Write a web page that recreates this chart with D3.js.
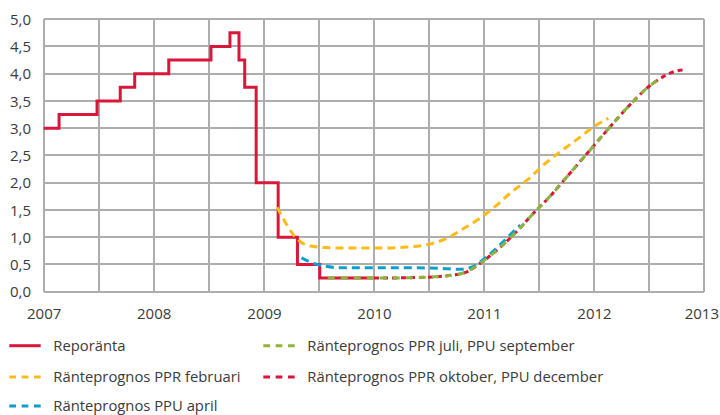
<!DOCTYPE html>
<html><head><meta charset="utf-8">
<script src="https://cdn.jsdelivr.net/npm/d3@7/dist/d3.min.js"></script>
<style>
html,body{margin:0;padding:0;background:#fff;}
svg{display:block;}
.ax{font-family:"Open Sans",sans-serif;font-size:15px;fill:#3a3a3a;}
.lg{font-family:"Open Sans",sans-serif;font-size:14.8px;fill:#3a3a3a;}
</style></head><body>
<svg id="c" width="720" height="415"></svg>
<script>
// ---- data ----
const yearTicks = [2007, 2008, 2009, 2010, 2011, 2012, 2013];
const yTicks = [0, 0.5, 1, 1.5, 2, 2.5, 3, 3.5, 4, 4.5, 5];

// Reporänta (step function): [date, rate]
const repoDates = ["2007-01-01","2007-02-21","2007-06-27","2007-09-12","2007-10-30","2008-02-20","2008-07-09","2008-09-10","2008-10-10","2008-10-29","2008-12-06","2009-02-17","2009-04-22","2009-07-05","2009-12-30"];
const repoValues = [3.0,3.25,3.5,3.75,4.0,4.25,4.5,4.75,4.25,3.75,2.0,1.0,0.5,0.25,0.25];

// Ränteprognos PPR februari (decimal years)
const febX = [2009.12,2009.30,2009.38,2009.55,2009.80,2010.05,2010.30,2010.50,2010.65,2010.80,2010.95,2011.10,2011.25,2011.40,2011.55,2011.70,2011.85,2012.00,2012.13];
const febY = [1.55,0.97,0.86,0.81,0.80,0.80,0.82,0.87,0.97,1.14,1.33,1.56,1.83,2.06,2.34,2.58,2.80,3.03,3.18];

// Ränteprognos PPU april
const aprX = [2009.34,2009.45,2009.55,2009.70,2010.00,2010.30,2010.60,2010.78,2010.90,2011.00,2011.13,2011.24,2011.33];
const aprY = [0.62,0.52,0.47,0.44,0.44,0.44,0.43,0.41,0.46,0.60,0.83,1.05,1.22];

// Ränteprognos PPR juli, PPU september
const julX = [2009.58,2010.00,2010.40,2010.70,2010.85,2010.95,2011.05,2011.15,2011.30,2011.45,2011.60,2011.75,2011.90,2012.05,2012.20,2012.35,2012.50,2012.60];
const julY = [0.25,0.25,0.26,0.30,0.37,0.50,0.65,0.82,1.11,1.44,1.75,2.10,2.45,2.80,3.15,3.48,3.77,3.91];

// Ränteprognos PPR oktober, PPU december
const oktX = [2010.00,2010.40,2010.70,2010.85,2010.95,2011.05,2011.15,2011.30,2011.45,2011.60,2011.75,2011.90,2012.05,2012.20,2012.35,2012.50,2012.60,2012.70,2012.82];
const oktY = [0.25,0.26,0.30,0.37,0.50,0.65,0.82,1.11,1.44,1.75,2.10,2.45,2.80,3.15,3.48,3.77,3.91,4.02,4.07];

const seriesNames = ["Reporänta","Ränteprognos PPR februari","Ränteprognos PPU april","Ränteprognos PPR juli, PPU september","Ränteprognos PPR oktober, PPU december"];
const seriesColors = ["#d9173b","#fdbb1b","#0b9fcf","#8cb43e","#d9173b"];

// ---- chart ----
const svg = d3.select("#c");
const x0 = 43.7, x1 = 704.3, yTop = 19.2, yBot = 291.7;
const toDate = v => { const y = Math.floor(v); const s = new Date(y,0,1), e = new Date(y+1,0,1); return new Date(+s + (v-y)*(e-s)); };
const x = d3.scaleTime().domain([new Date(2007,0,1), new Date(2013,0,1)]).range([x0, x1]);
const y = d3.scaleLinear().domain([0,5]).range([yBot, yTop]);

// grid: vertical at half years
const halfYears = d3.range(2007, 2013.01, 0.5).map(toDate);
const grid = svg.append("g").attr("stroke","#adadad").attr("stroke-width",1.2).attr("shape-rendering","crispEdges");
grid.selectAll("line.v").data(halfYears).join("line").attr("class","v")
  .attr("x1",d=>Math.round(x(d))).attr("x2",d=>Math.round(x(d))).attr("y1",yTop).attr("y2",yBot);
grid.selectAll("line.h").data(yTicks).join("line").attr("class","h")
  .attr("x1",x0).attr("x2",x1).attr("y1",d=>Math.round(y(d))).attr("y2",d=>Math.round(y(d)));

// y axis labels
const fmt = d => d3.format(".1f")(d).replace(".", ",");
const yAxis = d3.axisLeft(y).tickValues(yTicks).tickFormat(fmt).tickSize(0).tickPadding(0);
const gy = svg.append("g").attr("transform","translate(31,0)").call(yAxis);
gy.select(".domain").remove();
gy.selectAll("text").attr("class","ax").attr("font-family",null).attr("font-size",null).attr("fill",null).attr("dy","0.35em");

// x axis labels
const xAxis = d3.axisBottom(x).tickValues(yearTicks.map(v=>new Date(v,0,1))).tickFormat(d3.timeFormat("%Y")).tickSize(0).tickPadding(0);
const gx = svg.append("g").attr("transform","translate(0,319)").call(xAxis);
gx.select(".domain").remove();
gx.selectAll("text").attr("class","ax").attr("font-family",null).attr("font-size",null).attr("fill",null).attr("dy",0);
gx.selectAll("text").each(function(){
  const b = this.getBBox();
  const t = d3.select(this.parentNode).attr("transform");
  const tx = +t.match(/translate\(([-\d.]+)/)[1];
  if (tx + b.x + b.width > 719) d3.select(this).attr("x", 719 - (tx + b.x + b.width));
});

// lines
const repo = repoDates.map((d,i)=>({d:new Date(d+"T00:00:00"), v:repoValues[i]}));
const stepLine = d3.line().x(p=>x(p.d)).y(p=>y(p.v)).curve(d3.curveStepAfter);
svg.append("path").datum(repo).attr("d",stepLine).attr("fill","none")
  .attr("stroke",seriesColors[0]).attr("stroke-width",3).attr("stroke-linejoin","miter");

const smooth = d3.line().x(p=>x(toDate(p[0]))).y(p=>y(p[1])).curve(d3.curveMonotoneX);
// drawing order: februari, oktober, april, juli (green on top of red)
const fc = [
  {xs:febX, ys:febY, c:seriesColors[1], dash:"8,5", off:0},
  {xs:oktX, ys:oktY, c:seriesColors[4], dash:"5,4", off:0},
  {xs:aprX, ys:aprY, c:seriesColors[2], dash:"8,5", off:0},
  {xs:julX, ys:julY, c:seriesColors[3], dash:"7,6", off:0}
];
fc.forEach(s=>{
  svg.append("path").datum(s.xs.map((v,i)=>[v,s.ys[i]])).attr("d",smooth).attr("fill","none")
    .attr("stroke",s.c).attr("stroke-width",3).attr("stroke-dasharray",s.dash).attr("stroke-dashoffset",s.off);
});

// legend
const legPos = [[9.3,345.7],[9.3,377],[9.3,406],[263.3,345.7],[263.3,377]];
const lg = svg.append("g");
seriesNames.forEach((n,i)=>{
  const [lx,ly] = legPos[i];
  lg.append("line").attr("x1",lx).attr("x2",lx+31.4).attr("y1",ly).attr("y2",ly)
    .attr("stroke",seriesColors[i]).attr("stroke-width",3)
    .attr("stroke-dasharray", i===0 ? null : "6.7,5.65");
  lg.append("text").attr("class","lg").attr("x",lx+44).attr("y",ly).attr("dy","0.36em").text(n);
});
</script>
</body></html>
